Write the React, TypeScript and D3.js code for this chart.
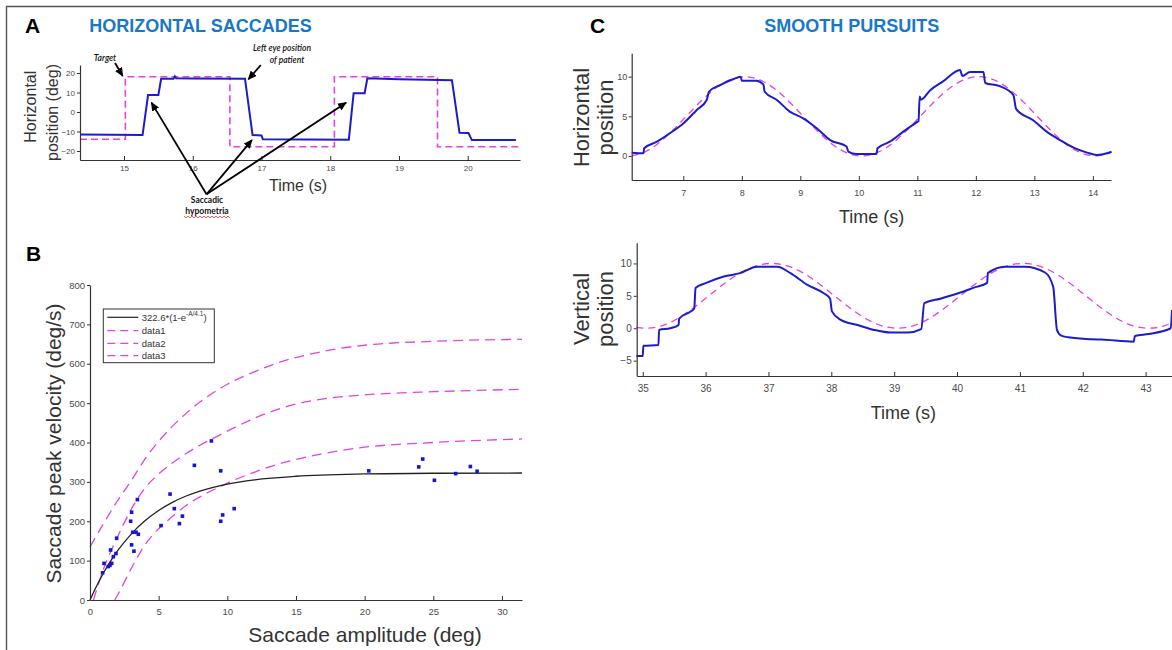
import React, { useRef, useEffect } from 'react';
import * as d3 from 'd3';

const FONT = "'Liberation Sans', Arial, Helvetica, sans-serif";
const NOTE_FONT = "Lato, 'Open Sans', sans-serif";
const BLUE = '#1c1ccc';
const MAGENTA = '#e043e0';
const TITLE_BLUE = '#1877c9';

// A: horizontal saccades (time s, position deg)
const targetA_t = [14.36, 15.02, 15.02, 16.54, 16.54, 18.06, 18.06, 19.56, 19.56, 20.76];
const targetA_v = [-14, -14, 18.1, 18.1, -17.8, -17.8, 18.1, 18.1, -17.8, -17.8];
const eyeA_t = [14.36, 15.27, 15.35, 15.5, 15.54, 15.72, 15.74, 15.76, 16.0, 16.76, 16.87, 17.0, 17.02, 18.27, 18.34, 18.5, 18.54, 19.0, 19.77, 19.88, 20.01, 20.06, 20.7];
const eyeA_v = [-11.5, -11.8, 8.7, 8.7, 17.0, 17.0, 18.3, 17.3, 17.2, 17.0, -11.8, -12.0, -14.0, -14.2, 9.6, 9.6, 17.3, 16.8, 16.3, -10.6, -10.8, -14.4, -14.4];
const ticksA_x = [15, 16, 17, 18, 19, 20];
const ticksA_y = [-20, -10, 0, 10, 20];

// B: main sequence
const ampB = [0.92, 1.02, 1.33, 1.45, 1.58, 1.5, 1.7, 1.89, 1.94, 2.96, 3.03, 3.03, 3.11, 3.2, 3.35, 3.45, 3.52, 5.17, 5.83, 6.14, 6.51, 6.73, 7.6, 8.84, 9.52, 9.52, 9.66, 10.5, 20.3, 23.94, 24.23, 25.08, 26.63, 27.7, 28.19];
const velB = [69, 93, 85, 88, 93, 127, 110, 118, 157, 200, 223, 140, 172, 124, 172, 255, 167, 189, 269, 232, 194, 213, 342, 404, 328, 200, 216, 232, 328, 338, 358, 304, 321, 339, 327];
const fitA = [0, 0.5, 1, 1.5, 2, 3, 4, 5, 6, 7, 8, 10, 12, 15, 20, 25, 31.46];
const fitV = [0, 37.0, 69.8, 98.8, 124.5, 167.4, 201.0, 227.3, 247.9, 264.1, 276.8, 294.5, 305.3, 314.3, 320.1, 321.9, 322.5];
const data1A = [0, 1, 2, 3, 4, 5, 6, 7, 8, 9, 10, 12, 14, 16, 18, 20, 25, 31.46];
const data1V = [135, 195, 252, 303, 358, 403, 441, 474, 503, 527, 548, 580, 606, 624, 638, 647, 657, 662];
const data2A = [0.25, 1, 2, 3, 4, 5, 6, 7, 8, 9, 10, 12, 14, 16, 18, 20, 25, 31.46];
const data2V = [0, 80, 160, 230, 284, 320, 348, 372, 393, 411, 429, 462, 488, 505, 515, 521, 529, 535];
const data3A = [1.8, 2, 3, 4, 5, 6, 7, 8, 9, 10, 12, 14, 16, 18, 20, 25, 31.46];
const data3V = [0, 12, 80, 140, 181, 212, 240, 262, 280, 297, 325, 348, 365, 378, 388, 400, 409];
const ticksB_x = [0, 5, 10, 15, 20, 25, 30];
const ticksB_y = [0, 100, 200, 300, 400, 500, 600, 700, 800];

// C: smooth pursuits, horizontal
const targetH_t = [6.12, 6.3, 6.55, 6.8, 7.05, 7.3, 7.55, 7.8, 8.05, 8.3, 8.55, 8.8, 9.05, 9.3, 9.55, 9.8, 10.05, 10.3, 10.55, 10.8, 11.05, 11.3, 11.55, 11.8, 12.05, 12.3, 12.55, 12.8, 13.05, 13.3, 13.55, 13.8, 14.05, 14.3];
const targetH_v = [0.03, 0.38, 1.46, 3.09, 5.0, 6.91, 8.54, 9.62, 10.0, 9.62, 8.54, 6.91, 5.0, 3.09, 1.46, 0.38, 0.0, 0.38, 1.46, 3.09, 5.0, 6.91, 8.54, 9.62, 10.0, 9.62, 8.54, 6.91, 5.0, 3.09, 1.46, 0.38, 0.0, 0.38];
const eyeH_t = [6.12, 6.32, 6.33, 6.55, 6.77, 7.0, 7.23, 7.4, 7.44, 7.63, 7.85, 7.98, 8.0, 8.25, 8.37, 8.39, 8.6, 8.82, 9.05, 9.28, 9.51, 9.79, 9.82, 9.96, 10.3, 10.32, 10.53, 10.76, 11.0, 11.02, 11.04, 11.06, 11.22, 11.44, 11.73, 11.77, 11.9, 12.13, 12.16, 12.41, 12.64, 12.69, 12.98, 13.21, 13.44, 13.67, 13.9, 14.07, 14.32];
const eyeH_v = [0.42, 0.35, 0.97, 1.8, 2.86, 4.1, 5.8, 7.06, 8.1, 8.95, 9.67, 10.0, 9.5, 9.5, 9.0, 8.1, 7.06, 5.6, 4.75, 3.5, 2.0, 1.2, 0.55, 0.25, 0.25, 0.97, 1.8, 3.07, 4.3, 4.4, 7.5, 7.1, 8.3, 9.4, 10.85, 10.1, 10.6, 10.6, 9.2, 8.8, 7.7, 5.9, 4.5, 3.07, 2.0, 1.05, 0.42, 0.13, 0.54];
const ticksH_x = [7, 8, 9, 10, 11, 12, 13, 14];
const ticksH_y = [0, 5, 10];

// C: smooth pursuits, vertical
const targetV_t = [34.9, 35.05, 35.3, 35.55, 35.8, 36.05, 36.3, 36.55, 36.8, 37.05, 37.3, 37.55, 37.8, 38.05, 38.3, 38.55, 38.8, 39.05, 39.3, 39.55, 39.8, 40.05, 40.3, 40.55, 40.8, 41.05, 41.3, 41.55, 41.8, 42.05, 42.3, 42.55, 42.8, 43.05, 43.3, 43.42];
const targetV_v = [0.14, 0, 0.38, 1.46, 3.09, 5.0, 6.91, 8.54, 9.62, 10, 9.62, 8.54, 6.91, 5.0, 3.09, 1.46, 0.38, 0, 0.38, 1.46, 3.09, 5, 6.91, 8.54, 9.62, 10, 9.62, 8.54, 6.91, 5, 3.09, 1.46, 0.38, 0, 0.38, 0.82];
const eyeV_t = [34.9, 35.0, 35.01, 35.25, 35.26, 35.44, 35.57, 35.58, 35.76, 35.82, 35.84, 36.0, 36.29, 36.55, 36.82, 37.14, 37.35, 37.62, 37.88, 37.98, 38.01, 38.15, 38.42, 38.68, 38.95, 39.22, 39.43, 39.48, 39.75, 40.02, 40.28, 40.48, 40.49, 40.76, 41.08, 41.4, 41.53, 41.59, 41.65, 41.77, 42.14, 42.3, 42.81, 42.83, 43.05, 43.4, 43.42];
const eyeV_v = [-4.28, -4.28, -2.7, -2.6, -0.26, 0.0, 0.5, 1.5, 2.57, 3.1, 6.2, 6.95, 7.98, 8.5, 9.5, 9.5, 8.5, 6.7, 5.4, 4.6, 2.6, 1.3, 0.5, -0.26, -0.67, -0.67, -0.15, 3.86, 4.6, 5.4, 6.3, 7.0, 8.5, 9.5, 9.5, 8.6, 6.4, -0.26, -1.1, -1.4, -1.7, -1.75, -2.07, -1.19, -0.88, 0.0, 2.8];
const ticksV_x = [35, 36, 37, 38, 39, 40, 41, 42, 43];
const ticksV_y = [-5, 0, 5, 10];

const xA = d3.scaleLinear().domain([14.36, 20.76]).range([80, 520]);
const yA = d3.scaleLinear().domain([-24.6, 24.1]).range([160, 65]);
const xB = d3.scaleLinear().domain([0, 31.46]).range([90, 522]);
const yB = d3.scaleLinear().domain([0, 800]).range([600, 285]);
const xH = d3.scaleLinear().domain([6.118, 14.31]).range([631.7, 1111]);
const yH = d3.scaleLinear().domain([-3.03, 12.95]).range([180, 53.3]);
const xV = d3.scaleLinear().domain([34.904, 43.42]).range([636.7, 1172]);
const yV = d3.scaleLinear().domain([-7.37, 13.2]).range([376, 242.7]);

const linePath = (xs: number[], ys: number[], x: any, y: any, curve: any = d3.curveLinear) =>
  d3.line<number>().x((d) => x(d)).y((_, i) => y(ys[i])).curve(curve)(xs) || '';

const Axis = ({ scale, orient, values, size, pad, fontSize, transform }: any) => {
  const ref = useRef<SVGGElement>(null);
  useEffect(() => {
    const ax = orient === 'left' ? d3.axisLeft(scale) : d3.axisBottom(scale);
    ax.tickValues(values).tickFormat(d3.format('~g') as any).tickSizeOuter(0).tickSizeInner(size).tickPadding(pad);
    const g = d3.select(ref.current as SVGGElement);
    g.call(ax as any);
    g.attr('font-family', FONT).attr('font-size', fontSize);
    g.select('.domain').attr('stroke', '#333').attr('stroke-width', 1.2);
    g.selectAll('.tick line').attr('stroke', '#333');
    g.selectAll('.tick text').attr('fill', '#4a4a4a');
  });
  return <g ref={ref} transform={transform} />;
};

const RotLabel = ({ x, y, size, children }: any) => (
  <text transform={`translate(${x},${y}) rotate(-90)`} textAnchor="middle" dominantBaseline="central"
    fontSize={size} fill="#333" fontFamily={FONT}>{children}</text>
);

export default function App() {
  useEffect(() => { document.body.style.margin = '0'; }, []);

  const arrow = (x1: number, y1: number, x2: number, y2: number, key: string) => (
    <line key={key} x1={x1} y1={y1} x2={x2} y2={y2} stroke="#000" strokeWidth={1.8} markerEnd="url(#head)" />
  );
  // "Saccadic hypometria" arrows start below the axis and point at the undershoots
  const srcX = xA(16.2), srcY = yA(-42.2);
  const squiggle = d3.range(184, 231, 2).map((x, i) => `${i ? 'L' : 'M'}${x},${217 + (i % 2 ? 1 : -1)}`).join('');

  const legendRows = [
    { label: 'fit', dash: undefined, color: '#222' },
    { label: 'data1', dash: '8,5', color: MAGENTA },
    { label: 'data2', dash: '8,5', color: MAGENTA },
    { label: 'data3', dash: '8,5', color: MAGENTA },
  ];
  const legendY = [317.3, 330.7, 343.3, 355.7];

  return (
    <svg width={1172} height={650} style={{ display: 'block', background: '#fff' }} fontFamily={FONT}>
      <defs>
        <marker id="head" markerWidth={9} markerHeight={8} refX={8} refY={4} orient="auto" markerUnits="userSpaceOnUse">
          <path d="M0,0 L9,4 L0,8 z" fill="#000" />
        </marker>
      </defs>
      {/* frame */}
      <line x1={6} y1={6.5} x2={1172} y2={6.5} stroke="#555" strokeWidth={1.4} />
      <line x1={6.5} y1={6} x2={6.5} y2={650} stroke="#555" strokeWidth={1.4} />

      {/* ---------- A ---------- */}
      <text x={25} y={33} fontSize={21} fontWeight="bold">A</text>
      <text x={200.5} y={32} fontSize={18} fontWeight="bold" fill={TITLE_BLUE} textAnchor="middle">HORIZONTAL SACCADES</text>
      <path d={linePath(targetA_t, targetA_v, xA, yA)} fill="none" stroke={MAGENTA} strokeWidth={1.6} strokeDasharray="7,4" />
      <path d={linePath(eyeA_t, eyeA_v, xA, yA)} fill="none" stroke={BLUE} strokeWidth={2} />
      <Axis scale={xA} orient="bottom" values={ticksA_x} size={-4} pad={5} fontSize={8} transform="translate(0,160)" />
      <Axis scale={yA} orient="left" values={ticksA_y} size={3} pad={2} fontSize={8} transform="translate(80,0)" />
      <RotLabel x={30} y={106.7} size={16}>Horizontal</RotLabel>
      <RotLabel x={52} y={112.5} size={16}>position (deg)</RotLabel>
      <text x={298} y={190.5} fontSize={16} fill="#333" textAnchor="middle">Time (s)</text>
      <g fontFamily={NOTE_FONT} fontSize={8.5} fill="#111" textAnchor="middle">
        <text x={105} y={61} fontStyle="italic" fontWeight={600}>Target</text>
        <text x={282} y={51} fontStyle="italic" fontWeight={600}>Left eye position</text>
        <text x={287} y={63} fontStyle="italic" fontWeight={600}>of patient</text>
        <text x={207} y={203} fontWeight={700}>Saccadic</text>
        <text x={207} y={214} fontWeight={700}>hypometria</text>
      </g>
      <path d={squiggle} fill="none" stroke="#e03030" strokeWidth={0.8} />
      {arrow(xA(14.87), yA(25.1), xA(14.98), yA(18.5), 'tg')}
      {arrow(xA(16.99), yA(24.1), xA(16.81), yA(16.8), 'le')}
      {arrow(srcX, srcY, xA(15.4), yA(4.8), 'h1')}
      {arrow(srcX, srcY, xA(16.86), yA(-14.4), 'h2')}
      {arrow(srcX, srcY, xA(18.23), yA(4.8), 'h3')}

      {/* ---------- B ---------- */}
      <text x={26} y={261} fontSize={21} fontWeight="bold">B</text>
      {[[data1A, data1V], [data2A, data2V], [data3A, data3V]].map(([a, v], i) => (
        <path key={i} d={linePath(a, v, xB, yB, d3.curveMonotoneX)} fill="none" stroke={MAGENTA} strokeWidth={1.3} strokeDasharray="10,6" />
      ))}
      <path d={linePath(fitA, fitV, xB, yB, d3.curveMonotoneX)} fill="none" stroke="#222" strokeWidth={1.3} />
      {ampB.map((a, i) => (
        <rect key={i} x={xB(a) - 1.8} y={yB(velB[i]) - 1.8} width={3.6} height={3.6} fill="#1414d4" />
      ))}
      <Axis scale={xB} orient="bottom" values={ticksB_x} size={-4} pad={8} fontSize={9.5} transform="translate(0,600)" />
      <Axis scale={yB} orient="left" values={ticksB_y} size={3} pad={2} fontSize={9.5} transform="translate(90,0)" />
      <RotLabel x={53} y={443.5} size={21}>Saccade peak velocity (deg/s)</RotLabel>
      <text x={365} y={642} fontSize={21} fill="#333" textAnchor="middle">Saccade amplitude (deg)</text>
      <rect x={103.3} y={309} width={111} height={53.7} fill="#fff" stroke="#333" strokeWidth={1} />
      {legendRows.map((r, i) => (
        <g key={r.label}>
          <line x1={107.3} x2={138.3} y1={legendY[i]} y2={legendY[i]} stroke={r.color} strokeWidth={1.2} strokeDasharray={r.dash} />
          {i === 0 ? (
            <text x={141.7} y={legendY[i]} dominantBaseline="central" fontSize={9.5} fill="#333">
              322.6*(1-e<tspan dy={-4} fontSize={6.5}>-A/4.1</tspan><tspan dy={4}>)</tspan>
            </text>
          ) : (
            <text x={141.7} y={legendY[i]} dominantBaseline="central" fontSize={9.5} fill="#333">{r.label}</text>
          )}
        </g>
      ))}

      {/* ---------- C ---------- */}
      <text x={590} y={33} fontSize={21} fontWeight="bold">C</text>
      <text x={851.7} y={32} fontSize={18} fontWeight="bold" fill={TITLE_BLUE} textAnchor="middle">SMOOTH PURSUITS</text>
      <path d={linePath(targetH_t, targetH_v, xH, yH, d3.curveMonotoneX)} fill="none" stroke={MAGENTA} strokeWidth={1.3} strokeDasharray="7,5" />
      <path d={linePath(eyeH_t, eyeH_v, xH, yH, d3.curveMonotoneX)} fill="none" stroke={BLUE} strokeWidth={2} />
      <Axis scale={xH} orient="bottom" values={ticksH_x} size={-4} pad={9.5} fontSize={9} transform="translate(0,180)" />
      <Axis scale={yH} orient="left" values={ticksH_y} size={3} pad={1.5} fontSize={9} transform="translate(631.7,0)" />
      <RotLabel x={581} y={117.5} size={22}>Horizontal</RotLabel>
      <RotLabel x={605} y={117.5} size={22}>position</RotLabel>
      <text x={871.7} y={223} fontSize={18} fill="#333" textAnchor="middle">Time (s)</text>

      <path d={linePath(targetV_t, targetV_v, xV, yV, d3.curveMonotoneX)} fill="none" stroke={MAGENTA} strokeWidth={1.3} strokeDasharray="7,5" />
      <path d={linePath(eyeV_t, eyeV_v, xV, yV, d3.curveMonotoneX)} fill="none" stroke={BLUE} strokeWidth={2} />
      <Axis scale={xV} orient="bottom" values={ticksV_x} size={-4} pad={8.7} fontSize={10} transform="translate(0,376)" />
      <Axis scale={yV} orient="left" values={ticksV_y} size={3} pad={2} fontSize={10} transform="translate(636.7,0)" />
      <RotLabel x={581} y={309} size={22}>Vertical</RotLabel>
      <RotLabel x={605} y={309} size={22}>position</RotLabel>
      <text x={903.3} y={419} fontSize={18} fill="#333" textAnchor="middle">Time (s)</text>
    </svg>
  );
}
